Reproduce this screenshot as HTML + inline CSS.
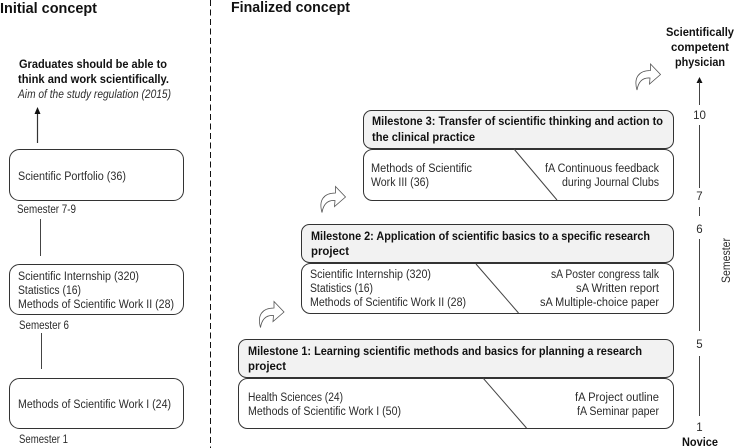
<!DOCTYPE html>
<html><head><meta charset="utf-8"><style>
html,body{margin:0;padding:0;background:#fff;width:734px;height:448px;overflow:hidden}
svg{display:block}
text{font-family:"Liberation Sans",sans-serif;font-size:11.5px;fill:#2c2c2c}
.b{font-weight:bold;fill:#111;font-size:12px}
.h{font-weight:bold;fill:#111;font-size:15px}
.box{fill:#fff;stroke:#333;stroke-width:1}
.hd{fill:#f2f2f2;stroke:#333;stroke-width:1}
.l{stroke:#444;stroke-width:1;fill:none}
.ar{fill:#fff;stroke:#555;stroke-width:.8}
</style></head><body>
<svg width="734" height="448" viewBox="0 0 734 448" xmlns="http://www.w3.org/2000/svg">
<defs><path id="ca" d="M1.5 26C-2 14 3 6.500 15 6.500L15 0L25 10.500L14 20L14.500 14C8 13.500 3 17 1.500 26Z"/></defs>

<text class="h" x="0" y="13" textLength="97" lengthAdjust="spacingAndGlyphs">Initial concept</text>
<text class="h" x="231" y="12" textLength="119" lengthAdjust="spacingAndGlyphs">Finalized concept</text>
<line x1="210.500" y1="0" x2="210.500" y2="448" stroke="#111" stroke-width="1" stroke-dasharray="6 3.500"/>

<text class="b" x="19" y="68" textLength="148" lengthAdjust="spacingAndGlyphs">Graduates should be able to</text>
<text class="b" x="18" y="83" textLength="151" lengthAdjust="spacingAndGlyphs">think and work scientifically.</text>
<text x="18" y="98" textLength="153" lengthAdjust="spacingAndGlyphs" style="font-style:italic">Aim of the study regulation (2015)</text>
<line x1="37.500" y1="143" x2="37.500" y2="113" stroke="#333" stroke-width="1.200"/>
<polygon points="37.500,107 34.500,114 40.500,114" fill="#111"/>

<rect class="box" x="9.500" y="149.500" width="174" height="51" rx="10"/>
<text x="18" y="180" textLength="108" lengthAdjust="spacingAndGlyphs">Scientific Portfolio (36)</text>
<text x="17" y="213" textLength="59" lengthAdjust="spacingAndGlyphs">Semester 7-9</text>
<line class="l" x1="40.500" y1="219" x2="40.500" y2="256"/>

<rect class="box" x="9.500" y="264.500" width="174" height="50" rx="10"/>
<text x="18" y="280" textLength="121" lengthAdjust="spacingAndGlyphs">Scientific Internship (320)</text>
<text x="18" y="294" textLength="63" lengthAdjust="spacingAndGlyphs">Statistics (16)</text>
<text x="18" y="308" textLength="156" lengthAdjust="spacingAndGlyphs">Methods of Scientific Work II (28)</text>
<text x="19" y="329" textLength="50" lengthAdjust="spacingAndGlyphs">Semester 6</text>
<line class="l" x1="41.500" y1="333" x2="41.500" y2="369"/>

<rect class="box" x="9.500" y="378.500" width="174" height="50" rx="10"/>
<text x="18" y="408" textLength="153" lengthAdjust="spacingAndGlyphs">Methods of Scientific Work I (24)</text>
<text x="19" y="443" textLength="49" lengthAdjust="spacingAndGlyphs">Semester 1</text>

<!-- Milestone 3 -->
<rect class="box" x="363.500" y="149.500" width="310" height="51" rx="9"/>
<rect class="hd" x="363.500" y="110.500" width="310" height="38" rx="8"/>
<line class="l" x1="514" y1="149" x2="557" y2="200"/>
<text class="b" x="372" y="125" textLength="291" lengthAdjust="spacingAndGlyphs">Milestone 3: Transfer of scientific thinking and action to</text>
<text class="b" x="372" y="141" textLength="103" lengthAdjust="spacingAndGlyphs">the clinical practice</text>
<text x="371" y="172" textLength="101" lengthAdjust="spacingAndGlyphs">Methods of Scientific</text>
<text x="371" y="186" textLength="58" lengthAdjust="spacingAndGlyphs">Work III (36)</text>
<text x="545" y="172" textLength="114" lengthAdjust="spacingAndGlyphs">fA Continuous feedback</text>
<text x="562" y="186" textLength="97" lengthAdjust="spacingAndGlyphs">during Journal Clubs</text>

<!-- Milestone 2 -->
<rect class="box" x="301.500" y="263.500" width="372" height="50" rx="9"/>
<rect class="hd" x="301.500" y="224.500" width="372" height="38" rx="8"/>
<line class="l" x1="476" y1="264" x2="518.500" y2="313"/>
<text class="b" x="311" y="240" textLength="339" lengthAdjust="spacingAndGlyphs">Milestone 2: Application of scientific basics to a specific research</text>
<text class="b" x="311" y="255" textLength="38" lengthAdjust="spacingAndGlyphs">project</text>
<text x="310" y="278" textLength="121" lengthAdjust="spacingAndGlyphs">Scientific Internship (320)</text>
<text x="310" y="292" textLength="63" lengthAdjust="spacingAndGlyphs">Statistics (16)</text>
<text x="310" y="306" textLength="156" lengthAdjust="spacingAndGlyphs">Methods of Scientific Work II (28)</text>
<text x="551" y="278" textLength="108" lengthAdjust="spacingAndGlyphs">sA Poster congress talk</text>
<text x="576" y="292" textLength="83" lengthAdjust="spacingAndGlyphs">sA Written report</text>
<text x="540" y="306" textLength="119" lengthAdjust="spacingAndGlyphs">sA Multiple-choice paper</text>

<!-- Milestone 1 -->
<rect class="box" x="238.500" y="378.500" width="435" height="50" rx="9"/>
<rect class="hd" x="238.500" y="339.500" width="435" height="38" rx="8"/>
<line class="l" x1="483" y1="378" x2="526.500" y2="428"/>
<text class="b" x="248" y="355" textLength="394" lengthAdjust="spacingAndGlyphs">Milestone 1: Learning scientific methods and basics for planning a research</text>
<text class="b" x="248" y="370" textLength="38" lengthAdjust="spacingAndGlyphs">project</text>
<text x="248" y="401" textLength="95" lengthAdjust="spacingAndGlyphs">Health Sciences (24)</text>
<text x="248" y="415" textLength="153" lengthAdjust="spacingAndGlyphs">Methods of Scientific Work I (50)</text>
<text x="575" y="401" textLength="84" lengthAdjust="spacingAndGlyphs">fA Project outline</text>
<text x="577" y="415" textLength="82" lengthAdjust="spacingAndGlyphs">fA Seminar paper</text>

<!-- curved arrows -->
<use href="#ca" class="ar" x="635.500" y="64"/>
<use href="#ca" class="ar" x="320.500" y="186.500"/>
<use href="#ca" class="ar" x="259" y="301.500"/>

<!-- axis -->
<text class="b" x="666" y="36" textLength="68" lengthAdjust="spacingAndGlyphs">Scientifically</text>
<text class="b" x="671" y="51" textLength="58" lengthAdjust="spacingAndGlyphs">competent</text>
<text class="b" x="675" y="66" textLength="50" lengthAdjust="spacingAndGlyphs">physician</text>
<polygon points="699.500,77 696.500,83 702.500,83" fill="#111"/>
<line class="l" x1="699.500" y1="82" x2="699.500" y2="105"/>
<text x="699.500" y="119" text-anchor="middle">10</text>
<line class="l" x1="699.500" y1="125" x2="699.500" y2="188"/>
<text x="699.500" y="200" text-anchor="middle">7</text>
<line class="l" x1="699.500" y1="207" x2="699.500" y2="216"/>
<text x="699.500" y="233" text-anchor="middle">6</text>
<line class="l" x1="699.500" y1="239" x2="699.500" y2="331"/>
<text x="699.500" y="348" text-anchor="middle">5</text>
<line class="l" x1="699.500" y1="356" x2="699.500" y2="416"/>
<text x="699.500" y="431" text-anchor="middle">1</text>
<text class="b" x="682" y="446" textLength="36" lengthAdjust="spacingAndGlyphs">Novice</text>
<text transform="translate(730,283) rotate(-90)" textLength="45" lengthAdjust="spacingAndGlyphs">Semester</text>
</svg>
</body></html>
